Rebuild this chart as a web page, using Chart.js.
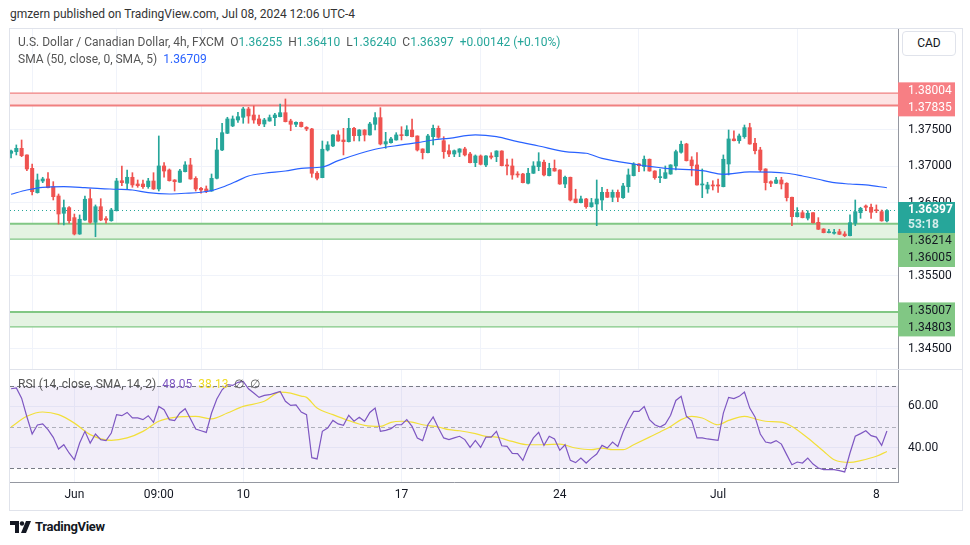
<!DOCTYPE html>
<html>
<head>
<meta charset="utf-8">
<script src="https://cdn.jsdelivr.net/npm/chart.js@4.4.1/dist/chart.umd.min.js"></script>
<style>
  body { margin: 0; background: #fff; width: 970px; height: 545px; overflow: hidden; position: relative; font-family: Roboto, "Noto Sans", sans-serif; color: #131722; }
  canvas { position: absolute; }
  #priceCanvas { left: 10px; top: 28px; }
  #rsiCanvas { left: 10px; top: 370px; }
  #frame { position: absolute; left: 9px; top: 28px; width: 954px; height: 483px; border: 1px solid #e0e3eb; box-sizing: border-box; pointer-events: none; }
  #sep { position: absolute; left: 10px; top: 369px; width: 952px; height: 1px; background: #e0e3eb; }
  .txt { position: absolute; white-space: pre; font-size: 12px; line-height: 14px; }
  .g { color: #26a69a; }
  #cad { position: absolute; left: 902px; top: 31px; width: 54px; height: 25px; border: 1px solid #e0e3eb; border-radius: 4px; box-sizing: border-box; font-size: 12px; line-height: 23px; text-align: center; background: #fff; }
  #logo { position: absolute; left: 10px; top: 520px; }
  #logoText { position: absolute; left: 35px; top: 519px; font-size: 13px; font-weight: bold; line-height: 16px; letter-spacing: -0.3px; }
</style>
</head>
<body>
<canvas id="priceCanvas" width="952" height="342"></canvas>
<canvas id="rsiCanvas" width="952" height="140"></canvas>
<div id="sep"></div>
<div id="frame"></div>
<div class="txt" style="left:10px;top:7px;color:#333">gmzern published on TradingView.com, Jul 08, 2024 12:06 UTC-4</div>
<div class="txt" style="left:18px;top:35px;color:#555">U.S. Dollar / Canadian Dollar, 4h, FXCM  O<span class="g">1.36255</span>  H<span class="g">1.36410</span>  L<span class="g">1.36240</span>  C<span class="g">1.36397</span>  <span class="g">+0.00142 (+0.10%)</span></div>
<div class="txt" style="left:18px;top:52px;color:#555">SMA (50, close, 0, SMA, 5)  <span style="color:#2962ff">1.36709</span></div>
<div class="txt" style="left:18px;top:377px;color:#555">RSI (14, close, SMA, 14, 2)  <span style="color:#7e57c2">48.05</span>  <span style="color:#efdc2a">38.13</span>  ∅  ∅</div>
<div id="cad">CAD</div>
<svg id="logo" width="22" height="14" viewBox="0 0 22 14"><path d="M0 1h9v12h-4v-8h-5z" fill="#131722"/><circle cx="12" cy="3.5" r="2.2" fill="#131722"/><path d="M16 1h5l-5 12h-5z" fill="#131722"/></svg>
<div id="logoText">TradingView</div>
<script>
// 4h candles, USD/CAD FXCM (index 0 = first visible bar)
const opens = [1.37181,1.37203,1.37249,1.37158,1.36975,1.36641,1.36801,1.36829,1.36723,1.36596,1.36359,1.36436,1.36299,1.36075,1.36267,1.36559,1.36235,1.36449,1.36285,1.36257,
  1.36394,1.36805,1.36770,1.36852,1.36760,1.36760,1.36723,1.36801,1.36692,1.37007,1.36952,1.36815,1.36784,1.36929,1.37021,1.36838,1.36701,1.36692,1.36664,1.36838,
  1.37226,1.37455,1.37555,1.37637,1.37674,1.37788,1.37705,1.37651,1.37582,1.37623,1.37669,1.37682,1.37737,1.37623,1.37578,1.37605,1.37537,1.37514,1.36907,1.36847,
  1.37226,1.37281,1.37432,1.37363,1.37340,1.37523,1.37422,1.37500,1.37432,1.37578,1.37669,1.37308,1.37326,1.37363,1.37436,1.37422,1.37500,1.37418,1.37240,1.37189,
  1.37408,1.37523,1.37353,1.37216,1.37171,1.37195,1.37240,1.37171,1.37052,1.37144,1.37021,1.37144,1.37134,1.37212,1.37021,1.37007,1.36897,1.36897,1.36770,1.36907,
  1.36997,1.37058,1.36874,1.36975,1.36952,1.36760,1.36852,1.36555,1.36504,1.36555,1.36449,1.36486,1.36541,1.36646,1.36578,1.36646,1.36573,1.36723,1.36874,1.37034,
  1.36997,1.37099,1.36938,1.36847,1.36838,1.36897,1.37007,1.37195,1.37308,1.37089,1.37021,1.36747,1.36692,1.36747,1.36747,1.36723,1.37034,1.37377,1.37353,1.37408,
  1.37532,1.37318,1.37226,1.36966,1.36792,1.36770,1.36815,1.36770,1.36578,1.36312,1.36367,1.36292,1.36367,1.36235,1.36144,1.36093,1.36085,1.36107,1.36075,1.36052,
  1.36222,1.36367,1.36459,1.36441,1.36404,1.36381,1.36255];
const highs = [1.37226,1.37295,1.37363,1.37158,1.37034,1.36897,1.36852,1.36915,1.36792,1.36623,1.36541,1.36449,1.36349,1.36336,1.36596,1.36692,1.36473,1.36559,1.36312,1.36427,
  1.36838,1.37007,1.36952,1.36915,1.36815,1.36815,1.36838,1.36915,1.37418,1.37052,1.36966,1.36820,1.36962,1.37066,1.37112,1.36860,1.36715,1.36733,1.36897,1.37386,
  1.37592,1.37674,1.37692,1.37742,1.37811,1.37811,1.37829,1.37705,1.37660,1.37705,1.37729,1.37856,1.37925,1.37647,1.37610,1.37610,1.37545,1.37523,1.36929,1.37349,
  1.37340,1.37436,1.37490,1.37523,1.37660,1.37537,1.37505,1.37505,1.37605,1.37737,1.37806,1.37468,1.37400,1.37463,1.37545,1.37559,1.37651,1.37420,1.37242,1.37441,
  1.37568,1.37555,1.37408,1.37295,1.37226,1.37245,1.37263,1.37195,1.37158,1.37158,1.37148,1.37189,1.37216,1.37216,1.37103,1.37103,1.36929,1.36907,1.36975,1.37066,
  1.37189,1.37089,1.37044,1.37089,1.36955,1.36870,1.36855,1.36688,1.36596,1.36564,1.36564,1.36815,1.36715,1.36688,1.36678,1.36678,1.36770,1.36966,1.37052,1.37040,
  1.37144,1.37103,1.36942,1.36966,1.37007,1.37025,1.37226,1.37349,1.37318,1.37134,1.37189,1.36966,1.36784,1.36805,1.36829,1.37158,1.37500,1.37490,1.37445,1.37568,
  1.37592,1.37386,1.37263,1.36970,1.36805,1.36852,1.36852,1.36778,1.36582,1.36436,1.36394,1.36394,1.36370,1.36299,1.36148,1.36140,1.36140,1.36140,1.36107,1.36336,
  1.36541,1.36441,1.36473,1.36486,1.36473,1.36404,1.36410];
const lows = [1.37116,1.37158,1.37134,1.36942,1.36610,1.36635,1.36778,1.36705,1.36541,1.36212,1.36199,1.36222,1.36062,1.36070,1.36260,1.36222,1.36038,1.36257,1.36222,1.36250,
  1.36390,1.36737,1.36692,1.36715,1.36715,1.36701,1.36701,1.36685,1.36664,1.36852,1.36800,1.36664,1.36780,1.36925,1.36825,1.36664,1.36633,1.36641,1.36660,1.36829,
  1.37216,1.37450,1.37545,1.37605,1.37592,1.37592,1.37592,1.37559,1.37545,1.37620,1.37559,1.37678,1.37610,1.37490,1.37545,1.37540,1.37490,1.36852,1.36815,1.36845,
  1.37212,1.37271,1.37345,1.37158,1.37335,1.37349,1.37349,1.37349,1.37428,1.37500,1.37295,1.37249,1.37318,1.37360,1.37363,1.37418,1.37405,1.37212,1.37103,1.37185,
  1.37295,1.37386,1.37112,1.37134,1.37134,1.37134,1.37144,1.37048,1.36997,1.37021,1.36997,1.37103,1.37066,1.37007,1.36884,1.36825,1.36852,1.36775,1.36760,1.36904,
  1.36942,1.36870,1.36870,1.36935,1.36755,1.36710,1.36527,1.36500,1.36500,1.36427,1.36441,1.36189,1.36404,1.36575,1.36518,1.36518,1.36564,1.36646,1.36870,1.36929,
  1.36938,1.36935,1.36825,1.36778,1.36835,1.36893,1.36952,1.37181,1.37075,1.36870,1.36743,1.36573,1.36633,1.36678,1.36646,1.36720,1.36884,1.37350,1.37318,1.37386,
  1.37305,1.37171,1.36929,1.36678,1.36723,1.36765,1.36692,1.36527,1.36189,1.36308,1.36295,1.36267,1.36222,1.36136,1.36090,1.36090,1.36071,1.36068,1.36038,1.36048,
  1.36189,1.36290,1.36394,1.36290,1.36367,1.36250,1.36240];
const closes = [1.37212,1.37249,1.37148,1.36966,1.36655,1.36815,1.36829,1.36710,1.36586,1.36349,1.36436,1.36257,1.36075,1.36277,1.36551,1.36235,1.36449,1.36267,1.36267,1.36404,
  1.36801,1.36778,1.36852,1.36747,1.36737,1.36723,1.36801,1.36692,1.37007,1.36938,1.36805,1.36792,1.36938,1.37021,1.36829,1.36692,1.36678,1.36664,1.36838,1.37226,
  1.37463,1.37651,1.37651,1.37682,1.37788,1.37692,1.37637,1.37582,1.37637,1.37669,1.37705,1.37737,1.37614,1.37578,1.37605,1.37545,1.37514,1.36907,1.36838,1.37236,
  1.37295,1.37432,1.37349,1.37340,1.37523,1.37422,1.37500,1.37432,1.37582,1.37669,1.37308,1.37340,1.37377,1.37432,1.37422,1.37500,1.37408,1.37226,1.37189,1.37418,
  1.37523,1.37400,1.37203,1.37171,1.37216,1.37240,1.37158,1.37052,1.37144,1.37030,1.37144,1.37126,1.37212,1.37011,1.37007,1.36884,1.36884,1.36778,1.36907,1.37007,
  1.37066,1.36884,1.36975,1.36938,1.36760,1.36852,1.36541,1.36504,1.36555,1.36449,1.36504,1.36555,1.36646,1.36578,1.36646,1.36578,1.36733,1.36884,1.37034,1.37011,
  1.37099,1.36938,1.36847,1.36860,1.36915,1.37021,1.37203,1.37304,1.37079,1.37011,1.36747,1.36760,1.36747,1.36733,1.36733,1.37099,1.37377,1.37353,1.37418,1.37532,
  1.37308,1.37216,1.36952,1.36778,1.36770,1.36815,1.36760,1.36573,1.36312,1.36367,1.36299,1.36359,1.36230,1.36140,1.36093,1.36107,1.36099,1.36071,1.36052,1.36230,
  1.36381,1.36427,1.36441,1.36373,1.36394,1.36255,1.36397];

// SMA(50) read at a few bars
const smaIdx = [0,3,6,10,14,17,20,23,26,30,33,36,38,40,43,45,48,52,55,59,62,69,74,77,80,83,88,92,96,100,105,109,112,118,124,131,135,140,147,150,153,156,159,162,166];
const smaVal = [1.36619,1.36678,1.36715,1.36723,1.36710,1.36696,1.36688,1.36678,1.36641,1.36623,1.36633,1.36647,1.36669,1.36715,1.36806,1.36870,1.36907,1.36938,1.36975,1.36993,
  1.37080,1.37236,1.37295,1.37326,1.37363,1.37386,1.37432,1.37408,1.37340,1.37281,1.37203,1.37181,1.37112,1.37034,1.36975,1.36942,1.36893,1.36925,1.36907,1.36870,
  1.36825,1.36778,1.36760,1.36747,1.36709];

// RSI(14) per bar and its SMA(14)
const rsi = [68.6,69,64,55,46.6,51,51.5,48.7,45,39.3,41.4,37.4,34.1,42.2,47.9,42.2,46.6,43.9,43.4,47.1,
  56,55.5,57.1,54.4,54.4,53.6,55.5,52.3,60,58.4,53.6,53.1,56.8,58.9,54,49,48.2,47.4,56.8,63.6,
  68.1,70.6,70.2,71.7,72.2,68.6,66.5,64.4,65.4,65.7,66.5,67.3,62.5,60.5,60.8,57.3,56,35.1,34.5,47.9,
  49.5,53.2,51.5,50.8,55.7,52.8,54.7,52.8,57.1,59.2,47.9,48.4,49.2,51.1,51.1,53.6,50.3,44.7,43.4,51.1,
  54.9,49.5,44.7,43.9,44.7,45.5,43.9,40.1,43.5,40.1,45.1,45.1,47.9,40.9,40.6,37.2,37.1,33.8,40.1,44.7,
  47.4,41.1,45.5,44.2,38.7,41.4,33.8,32.7,34.9,32.5,34.9,36.9,41.1,39.8,42.7,40.6,47.6,53.2,57.6,57.6,
  60,53.6,51.1,50,51.5,55.7,62.9,64.9,55.2,53.1,44.7,44.7,44.2,43.9,43.5,56.8,64.4,63.8,64.9,67,
  59.2,54.9,46.6,42.7,42.2,43.4,41.7,36.6,31.7,33,32.5,34.9,32,30.1,29.3,29.3,29.3,28.8,28.2,37.4,
  45.5,46.8,48.2,45.8,45.1,41.1,48.05];
const rsiMaIdx = [0,3,6,9,12,15,19,22,25,28,31,35,38,41,44,48,51,53,55,56,58,61,64,67,70,72,74,76,78,81,83,85,88,90,92,95,98,101,104,107,110,112,114,116,118,121,123,125,127,129,131,134,136,139,141,143,146,148,151,154,156,159,161,164,166];
const rsiMaVal = [50,55.2,57.3,56,51.9,46.3,43.5,44.7,47.9,52.8,54.7,55.2,54,56.8,60,62.5,67,66.5,65,64.4,59.2,56,53.1,50.8,50.3,52.3,52.8,52.4,51.1,50,48.7,48.2,46.8,45.5,45.1,43,41.4,41.4,41.7,39.8,
  39,39.8,39,39,41.4,45.1,47.6,50.3,53.6,55.2,54.4,51.1,53.2,55.2,54,52.8,52.4,50.3,44.7,38.2,34.1,32.8,33.7,35.8,38.13];

// horizontal zones (upper, lower)
const zoneHigh = [1.38004, 1.36214, 1.35007];
const zoneLow = [1.37835, 1.36005, 1.34803];
const zoneKind = ["res", "sup", "sup"];

// axes
const priceTicks = [1.345, 1.350, 1.355, 1.360, 1.365, 1.370, 1.375, 1.380];
const rsiTicks = [40, 60];
const rsiLevels = [70, 50, 30];
const dateTickIdx = [12, 28, 44, 74, 104, 134, 164];
const dateTickLabels = ["Jun", "09:00", "10", "17", "24", "Jul", "8"];
const countdown = "53:18";

const upColor = "#26a69a";
const downColor = "#ef5350";
const gridColor = "#f0f3fa";
const axisLine = "#9598a1";
const xMin = -0.2, xMax = 168.1;

Chart.defaults.font.family = "Roboto, 'Noto Sans', sans-serif";
Chart.defaults.font.size = 12;
Chart.defaults.color = "#131722";
Chart.defaults.animation = false;

const candleColors = opens.map((o, i) => (closes[i] >= o ? upColor : downColor));
const bodies = opens.map((o, i) => ({ x: i, y: [Math.min(o, closes[i]), Math.max(o, closes[i])] }));
const wicks = opens.map((o, i) => ({ x: i, y: [lows[i], highs[i]] }));
const smaPoints = smaIdx.map((x, k) => ({ x, y: smaVal[k] }));

const xAxis = (showLabels) => ({
  type: "linear",
  min: xMin,
  max: xMax,
  offset: false,
  afterBuildTicks: (s) => { s.ticks = dateTickIdx.map((v) => ({ value: v })); },
  afterFit: (s) => { s.height = showLabels ? 28 : 0; s.paddingLeft = 0; s.paddingRight = 0; },
  grid: { color: gridColor, drawTicks: false },
  border: { display: showLabels, color: axisLine },
  ticks: {
    display: showLabels,
    autoSkip: false,
    maxRotation: 0,
    padding: 6,
    callback: (v, i) => dateTickLabels[i],
  },
});

const zonePlugin = {
  id: "zones",
  beforeDatasetsDraw(chart) {
    const { ctx, chartArea: a, scales: { y } } = chart;
    ctx.save();
    zoneHigh.forEach((hi, k) => {
      const y1 = y.getPixelForValue(hi);
      const y2 = y.getPixelForValue(zoneLow[k]);
      const res = zoneKind[k] === "res";
      ctx.fillStyle = res ? "#fde4e4" : "#e4f3e2";
      ctx.fillRect(a.left, y1, a.right - a.left, y2 - y1);
      ctx.strokeStyle = res ? "#f08080" : "#81c784";
      ctx.lineWidth = res ? 1.2 : 2;
      ctx.beginPath(); ctx.moveTo(a.left, y1); ctx.lineTo(a.right, y1); ctx.stroke();
      ctx.lineWidth = res ? 2 : 1.3;
      ctx.beginPath(); ctx.moveTo(a.left, y2); ctx.lineTo(a.right, y2); ctx.stroke();
    });
    const py = Math.round(y.getPixelForValue(closes[closes.length - 1])) + 0.5;
    ctx.strokeStyle = upColor;
    ctx.lineWidth = 1;
    ctx.setLineDash([1, 3]);
    ctx.beginPath(); ctx.moveTo(a.left, py); ctx.lineTo(a.right, py); ctx.stroke();
    ctx.restore();
  },
  afterDraw(chart) {
    const { ctx, chartArea: a, scales: { y } } = chart;
    const bx = a.right, bw = 57;
    ctx.save();
    ctx.textBaseline = "middle";
    ctx.textAlign = "left";
    ctx.font = "12px Roboto, 'Noto Sans', sans-serif";
    const last = closes[closes.length - 1];
    const ly = y.getPixelForValue(last);
    const tealTop = ly - 8.5, tealBot = ly + 22.5;
    ctx.fillStyle = upColor;
    ctx.fillRect(bx, tealTop, bw, tealBot - tealTop);
    ctx.fillStyle = "#ffffff";
    ctx.font = "bold 12px Roboto, 'Noto Sans', sans-serif";
    ctx.fillText(last.toFixed(5), bx + 10, ly);
    ctx.fillStyle = "rgba(255,255,255,0.8)";
    ctx.fillText(countdown, bx + 10, ly + 15);
    ctx.font = "12px Roboto, 'Noto Sans', sans-serif";
    zoneHigh.forEach((hi, k) => {
      const res = zoneKind[k] === "res";
      const c = (y.getPixelForValue(hi) + y.getPixelForValue(zoneLow[k])) / 2;
      let top = c - 17;
      if (top < tealBot && top + 34 > tealTop) top = tealBot;
      ctx.fillStyle = res ? "#f77f84" : "#81c784";
      ctx.fillRect(bx, top, bw, 34);
      ctx.fillStyle = res ? "#ffffff" : "#131722";
      ctx.fillText(hi.toFixed(5), bx + 10, top + 8.5);
      ctx.fillText(zoneLow[k].toFixed(5), bx + 10, top + 25.5);
    });
    ctx.restore();
  },
};

const rsiBandPlugin = {
  id: "rsiBand",
  beforeDatasetsDraw(chart) {
    const { ctx, chartArea: a, scales: { y } } = chart;
    const top = y.getPixelForValue(rsiLevels[0]);
    const bot = y.getPixelForValue(rsiLevels[2]);
    ctx.save();
    ctx.fillStyle = "rgba(126,87,194,0.1)";
    ctx.fillRect(a.left, top, a.right - a.left, bot - top);
    rsiLevels.forEach((lv, k) => {
      const py = Math.round(y.getPixelForValue(lv)) + 0.5;
      ctx.strokeStyle = k === 1 ? "rgba(120,123,134,0.55)" : "#787b86";
      ctx.lineWidth = 1;
      ctx.setLineDash([4, 3]);
      ctx.beginPath(); ctx.moveTo(a.left, py); ctx.lineTo(a.right, py); ctx.stroke();
    });
    ctx.restore();
  },
};

new Chart(document.getElementById("priceCanvas"), {
  type: "bar",
  data: {
    datasets: [
      {
        type: "line",
        data: smaPoints,
        borderColor: "#2962ff",
        borderWidth: 1.2,
        pointRadius: 0,
        cubicInterpolationMode: "monotone",
      },
      {
        data: bodies,
        backgroundColor: candleColors,
        grouped: false,
        barThickness: 3.4,
        minBarLength: 1,
        borderWidth: 0,
      },
      {
        data: wicks,
        backgroundColor: candleColors,
        grouped: false,
        barThickness: 1,
        borderWidth: 0,
      },
    ],
  },
  options: {
    responsive: false,
    layout: { padding: 0 },
    plugins: { legend: { display: false }, tooltip: { enabled: false } },
    scales: {
      x: xAxis(false),
      y: {
        position: "right",
        min: 1.34212,
        max: 1.38897,
        afterBuildTicks: (s) => { s.ticks = priceTicks.map((v) => ({ value: v })); },
        afterFit: (s) => { s.width = 64; s.paddingTop = 0; s.paddingBottom = 0; },
        grid: { color: gridColor, drawTicks: false },
        border: { color: axisLine },
        ticks: { padding: 10, callback: (v) => v.toFixed(5) },
      },
    },
  },
  plugins: [zonePlugin],
});

new Chart(document.getElementById("rsiCanvas"), {
  type: "line",
  data: {
    datasets: [
      {
        data: rsi.map((v, i) => ({ x: i, y: v })),
        borderColor: "#7e57c2",
        borderWidth: 1.2,
        pointRadius: 0,
        tension: 0,
      },
      {
        data: rsiMaIdx.map((x, k) => ({ x, y: rsiMaVal[k] })),
        borderColor: "#f2df3a",
        borderWidth: 1.2,
        pointRadius: 0,
        cubicInterpolationMode: "monotone",
      },
    ],
  },
  options: {
    responsive: false,
    layout: { padding: 0 },
    plugins: { legend: { display: false }, tooltip: { enabled: false } },
    scales: {
      x: xAxis(true),
      y: {
        position: "right",
        min: 23.3,
        max: 77.7,
        afterBuildTicks: (s) => { s.ticks = rsiTicks.map((v) => ({ value: v })); },
        afterFit: (s) => { s.width = 64; s.paddingTop = 0; s.paddingBottom = 0; },
        grid: { color: gridColor, drawTicks: false },
        border: { color: axisLine },
        ticks: { padding: 10, callback: (v) => v.toFixed(2) },
      },
    },
  },
  plugins: [rsiBandPlugin],
});
</script>
</body>
</html>
